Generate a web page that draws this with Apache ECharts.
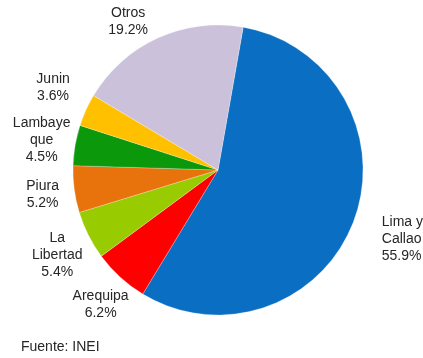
<!DOCTYPE html>
<html>
<head>
<meta charset="utf-8">
<script src="https://cdn.jsdelivr.net/npm/echarts@6/dist/echarts.min.js"></script>
<style>
html,body{margin:0;padding:0;background:#fff;}
#chart{width:423px;height:358px;}
</style>
</head>
<body>
<div id="chart"></div>
<script>
const categories = ['Lima y\nCallao', 'Arequipa', 'La\nLibertad', 'Piura', 'Lambaye\nque', 'Junin', 'Otros'];
const values = [55.9, 6.2, 5.4, 5.2, 4.5, 3.6, 19.2];
const colors = ['#0A6FC2', '#FF0000', '#99CC00', '#E8720C', '#0B990B', '#FFC000', '#CCC1DA'];
const sourceText = 'Fuente: INEI';

const CX = 218, CY = 170, R = 145;
const START_FROM_TOP = 10; // degrees clockwise from 12 o'clock
const total = values.reduce((a, b) => a + b, 0);
// small label nudges (style only), keyed by slice index
const nudge = {0: [0, 8], 1: [4, 2], 2: [0, 4], 3: [3, 1], 4: [1, 1], 5: [-1, -8], 6: [-15, 15]};

function midAngle(i) {
  let before = 0;
  for (let k = 0; k < i; k++) before += values[k];
  return (START_FROM_TOP + (before + values[i] / 2) / total * 360) * Math.PI / 180;
}

const chart = echarts.init(document.getElementById('chart'), null, {renderer: 'canvas'});
chart.setOption({
  backgroundColor: '#ffffff',
  animation: false,
  textStyle: {fontFamily: 'Liberation Sans, Arial, sans-serif'},
  series: [{
    type: 'pie',
    center: [CX, CY],
    radius: R,
    startAngle: 90 - START_FROM_TOP,
    clockwise: true,
    avoidLabelOverlap: false,
    data: categories.map((c, i) => ({name: c, value: values[i], itemStyle: {color: colors[i]}})),
    itemStyle: {borderColor: 'rgba(255,255,255,0.5)', borderWidth: 0.5},
    label: {
      show: true,
      position: 'outside',
      formatter: p => p.name + '\n' + p.value.toFixed(1) + '%',
      fontSize: 14,
      lineHeight: 17,
      color: '#262626',
      fontFamily: 'Liberation Sans, Arial, sans-serif'
    },
    labelLine: {show: false},
    labelLayout: function (params) {
      const i = params.dataIndex;
      const a = midAngle(i);
      const n = nudge[i] || [0, 0];
      if (i === 0) {
        const d = 175;
        return {x: CX + d * Math.sin(a) + n[0], y: CY - d * Math.cos(a) + n[1], align: 'left', verticalAlign: 'middle'};
      }
      const d = 180;
      return {x: CX + d * Math.sin(a) + n[0], y: CY - d * Math.cos(a) + n[1], align: 'center', verticalAlign: 'middle'};
    }
  }],
  graphic: [{
    type: 'text',
    left: 21,
    top: 340,
    style: {text: sourceText, fontSize: 14, fill: '#262626', fontFamily: 'Liberation Sans, Arial, sans-serif'}
  }]
});
</script>
</body>
</html>
